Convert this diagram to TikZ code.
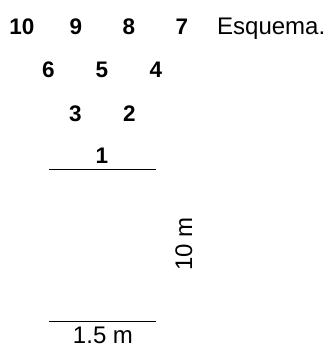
\documentclass[tikz,border=0pt]{standalone}
\usepackage{fontspec}
\setmainfont{Liberation Sans}
\begin{document}
\begin{tikzpicture}[x=1pt,y=1pt,
  num/.style={font=\fontsize{22.5}{26}\selectfont\bfseries, inner sep=0pt, anchor=base},
  lbl/.style={font=\fontsize{24}{28}\selectfont, inner sep=0pt, anchor=base},
  bar/.style={line width=1pt}]
\useasboundingbox (0,0) rectangle (329,345);
% row 1
\node[num] (n10) at (22,310.5) {10};
\node[num] (n9) at (76,310.5) {9};
\node[num] (n8) at (129,310.5) {8};
\node[num] (n7) at (182,310.5) {7};
\node[lbl, anchor=base west] (title) at (217,310.5) {Esquema.};
% row 2
\node[num] (n6) at (48.5,267) {6};
\node[num] (n5) at (102,267) {5};
\node[num] (n4) at (156,267) {4};
% row 3
\node[num] (n3) at (75.5,223.5) {3};
\node[num] (n2) at (129.5,223.5) {2};
% row 4
\node[num] (n1) at (102,181) {1};
% lines
\coordinate (a1) at (49,175);
\coordinate (a2) at (156,175);
\draw[bar] (a1) -- (a2);
\coordinate (b1) at (49,23);
\coordinate (b2) at (156,23);
\draw[bar] (b1) -- (b2);
% labels
\node[lbl, rotate=90] (h) at (192,101) {10 m};
\node[lbl] (w) at (103,1.5) {1.5 m};
\end{tikzpicture}
\end{document}
